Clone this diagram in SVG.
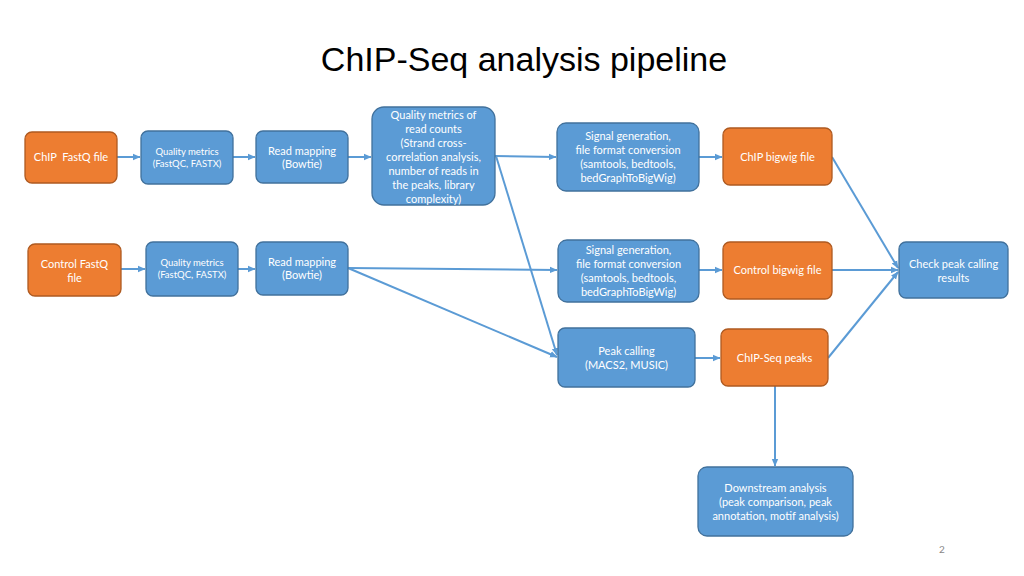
<svg xmlns="http://www.w3.org/2000/svg" width="1024" height="576" viewBox="0 0 1024 576">
<defs>
<marker id="arr" markerWidth="8" markerHeight="8" refX="7" refY="4" orient="auto" markerUnits="userSpaceOnUse">
<path d="M0,0.8 L7.5,4 L0,7.2 Z" fill="#5B9BD5"/>
</marker>
<style>
.b{fill:#5B9BD5;stroke:#41719C;stroke-width:1.3}
.o{fill:#ED7D31;stroke:#AE5A21;stroke-width:1.3}
.t{font-family:Lato,"Open Sans","Liberation Sans",sans-serif;fill:#fff;text-anchor:middle;font-size:11px}
.s{font-size:9.5px}
.c{stroke:#5B9BD5;stroke-width:2;fill:none;marker-end:url(#arr)}
</style>
</defs>
<rect width="1024" height="576" fill="#fff"/>
<text x="524" y="71" font-family="Liberation Sans,Arial,sans-serif" font-size="34" text-anchor="middle" fill="#000">ChIP-Seq analysis pipeline</text>
<g id="connectors">
<line class="c" x1="117" y1="157" x2="140" y2="157"/>
<line class="c" x1="233" y1="157" x2="255" y2="157"/>
<line class="c" x1="348" y1="157" x2="371" y2="157"/>
<line class="c" x1="495" y1="156" x2="556" y2="157"/>
<line class="c" x1="496" y1="156" x2="557" y2="355"/>
<line class="c" x1="699" y1="157" x2="722" y2="157"/>
<line class="c" x1="832" y1="157" x2="898" y2="268"/>
<line class="c" x1="121" y1="269" x2="145" y2="269"/>
<line class="c" x1="238" y1="269" x2="255" y2="269"/>
<line class="c" x1="348" y1="268" x2="557" y2="270"/>
<line class="c" x1="348" y1="268" x2="557" y2="357"/>
<line class="c" x1="699" y1="270" x2="722" y2="270"/>
<line class="c" x1="832" y1="270" x2="898" y2="270"/>
<line class="c" x1="695" y1="358" x2="720" y2="358"/>
<line class="c" x1="828" y1="358" x2="898" y2="272"/>
<line class="c" x1="775" y1="386" x2="775" y2="466"/>
</g>
<g id="chip_fastq"><rect class="o" x="25" y="132" width="92" height="51" rx="7"/><text class="t" x="71" y="161">ChIP&#160; FastQ file</text></g>
<g id="qm1"><rect class="b" x="141" y="131" width="92" height="53" rx="7"/><text class="t s" x="187" y="155">Quality metrics</text><text class="t s" x="187" y="167">(FastQC, FASTX)</text></g>
<g id="rm1"><rect class="b" x="256" y="131" width="92" height="52" rx="7"/><text class="t" x="302" y="155">Read mapping</text><text class="t" x="302" y="168">(Bowtie)</text></g>
<g id="qmrc"><rect class="b" x="372" y="107" width="123" height="98" rx="12"/>
<text class="t" x="433.5" y="119">Quality metrics of</text>
<text class="t" x="433.5" y="133">read counts</text>
<text class="t" x="433.5" y="147">(Strand cross-</text>
<text class="t" x="433.5" y="161">correlation analysis,</text>
<text class="t" x="433.5" y="175">number of reads in</text>
<text class="t" x="433.5" y="189">the peaks, library</text>
<text class="t" x="433.5" y="203">complexity)</text></g>
<g id="sg1"><rect class="b" x="557" y="123" width="142" height="68" rx="9"/>
<text class="t" x="628" y="140">Signal generation,</text>
<text class="t" x="628" y="154">file format conversion</text>
<text class="t" x="628" y="168">(samtools, bedtools,</text>
<text class="t" x="628" y="182">bedGraphToBigWig)</text></g>
<g id="chip_bigwig"><rect class="o" x="723" y="128" width="109" height="57" rx="7"/><text class="t" x="777.5" y="161">ChIP bigwig file</text></g>
<g id="control_fastq"><rect class="o" x="28" y="244" width="93" height="52" rx="7"/><text class="t" x="74.5" y="268">Control FastQ</text><text class="t" x="74.5" y="282">file</text></g>
<g id="qm2"><rect class="b" x="146" y="242" width="92" height="54" rx="7"/><text class="t s" x="192" y="266">Quality metrics</text><text class="t s" x="192" y="278">(FastQC, FASTX)</text></g>
<g id="rm2"><rect class="b" x="256" y="242" width="92" height="53" rx="7"/><text class="t" x="302" y="266">Read mapping</text><text class="t" x="302" y="279">(Bowtie)</text></g>
<g id="sg2"><rect class="b" x="558" y="240" width="141" height="62" rx="9"/>
<text class="t" x="628.5" y="254">Signal generation,</text>
<text class="t" x="628.5" y="268">file format conversion</text>
<text class="t" x="628.5" y="282">(samtools, bedtools,</text>
<text class="t" x="628.5" y="296">bedGraphToBigWig)</text></g>
<g id="control_bigwig"><rect class="o" x="723" y="242" width="109" height="57" rx="7"/><text class="t" x="777.5" y="274">Control bigwig file</text></g>
<g id="check"><rect class="b" x="899" y="242" width="109" height="56" rx="7"/><text class="t" x="953.5" y="268">Check peak calling</text><text class="t" x="953.5" y="282">results</text></g>
<g id="peak_calling"><rect class="b" x="558" y="328" width="137" height="59" rx="7"/><text class="t" x="626.5" y="355">Peak calling</text><text class="t" x="626.5" y="369">(MACS2, MUSIC)</text></g>
<g id="chipseq_peaks"><rect class="o" x="721" y="329" width="107" height="57" rx="7"/><text class="t" x="774.5" y="362">ChIP-Seq peaks</text></g>
<g id="downstream"><rect class="b" x="698" y="467" width="155" height="69" rx="9"/>
<text class="t" x="775.5" y="492">Downstream analysis</text>
<text class="t" x="775.5" y="506">(peak comparison, peak</text>
<text class="t" x="775.5" y="520">annotation, motif analysis)</text></g>
<text x="942" y="553" font-family="Lato,Liberation Sans,sans-serif" font-size="10" fill="#888" text-anchor="middle">2</text>
</svg>
